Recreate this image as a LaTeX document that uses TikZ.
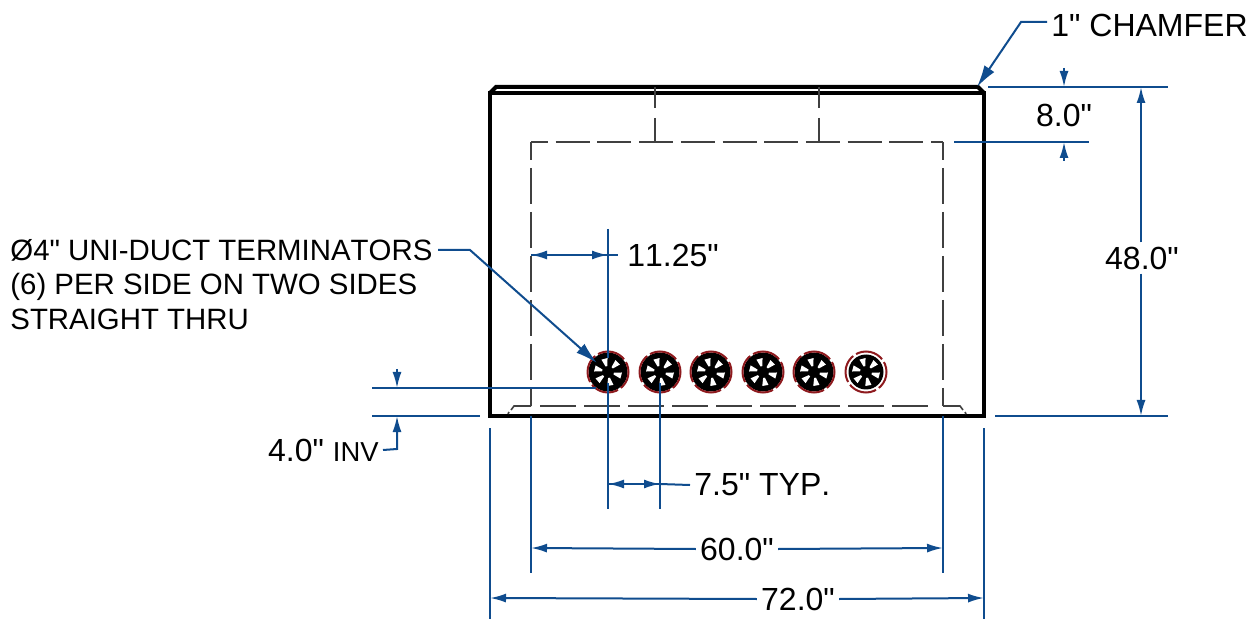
\documentclass[tikz,border=0pt]{standalone}
\usepackage{fontspec}
\setmainfont{Liberation Sans}[Ligatures=TeXOff,Kerning=Off]
\usetikzlibrary{arrows.meta}
\definecolor{dimblue}{HTML}{0F4C8E}
\definecolor{ductred}{HTML}{8E1A1E}
\tikzstyle{body} = [draw=black, line width=2pt, line join=miter]
\tikzstyle{hidden} = [draw=black!75, line width=.8pt, dash pattern=on 18pt off 4pt, dash phase=9pt]
\tikzstyle{hiddentop} = [hidden, dash pattern=on 17pt off 3.85pt, dash phase=8.5pt]
\tikzstyle{hiddenrib} = [hidden, dash pattern=on 10.5pt off 5pt on 12pt off 5pt, dash phase=0pt]
\tikzstyle{dimline} = [draw=dimblue, line width=1pt]
\tikzstyle{dimarrow} = [dimline, -{Latex[length=8pt,width=4.5pt]}]
\tikzstyle{leader} = [dimline, -{Latex[length=11pt,width=6pt]}]
\tikzstyle{dimtext} = [font=\fontsize{16}{16}\selectfont, inner sep=2pt, text=black]
\tikzstyle{notetext} = [font=\fontsize{14.7}{17.25}\selectfont, inner sep=2pt, text=black, align=left]
\tikzstyle{duct} = [circle, fill=black, minimum size=19.5pt, inner sep=0pt]
\tikzstyle{ductring} = [ductred, line width=1pt, dash pattern=on 14.4pt off 1.7pt, dash phase=5.25pt]
\newcommand{\ductwedges}[2]{%
	\foreach \ang in {80,15,-45,-105,-165,140} {%
		\fill[white] ([shift={(\ang-9:6)}]#1,#2) -- ([shift={(\ang-13:14)}]#1,#2) -- ([shift={(\ang+13:14)}]#1,#2) -- ([shift={(\ang+9:6)}]#1,#2) -- cycle;}}
\begin{document}
\begin{tikzpicture}[x=.5pt,y=-.5pt]
	\useasboundingbox (0,0) rectangle (1256,619);
	% box
	\draw[body] (490,416) -- (490,93) -- (984,93) -- (984,416) -- cycle;
	\draw[body] (490,93) -- (496,87) -- (978,87) -- (984,93);
	% hidden lines
	\draw[hidden] (531,142) -- (531,406);
	\draw[hidden] (943,142) -- (943,406);
	\draw[hiddentop] (531,142) -- (943,142);
	\draw[hidden, dash phase=0pt] (540,406) -- (934,406);
	\draw[hidden, solid] (511,410) -- (514,406) -- (531,406);
	\draw[hidden, solid] (963,410) -- (960,406) -- (943,406);
	\draw[hidden, solid] (508,414) -- (509,412);
	\draw[hidden, solid] (966,414) -- (965,412);
	\draw[hiddenrib] (655,87) -- (655,142);
	\draw[hiddenrib] (819,87) -- (819,142);
	% terminators
	\foreach \n/\cx in {1/608,2/660,3/711,4/763,5/814} {%
		\node[duct] (duct\n) at (\cx,372) {};
		\draw[ductring] (\cx,372) circle (20.5);
		\ductwedges{\cx}{372}
	}
	\node[duct, minimum size=17.5pt] (duct6) at (866,372) {};
	\draw[ductring] (866,372) circle (20.5);
	\ductwedges{866}{372}
	% named points
	\coordinate (topl) at (988,87);
	\coordinate (topr) at (1168,87);
	\coordinate (hidl) at (954,142);
	\coordinate (hidr) at (1089,142);
	\coordinate (botl) at (995,416);
	\coordinate (botr) at (1168,416);
	\coordinate (cenl) at (372,388);
	\coordinate (cenr) at (596,388);
	\coordinate (invl) at (372,416);
	\coordinate (invr) at (480,416);
	% extension lines
	\draw[dimline] (topl) -- (topr);
	\draw[dimline] (hidl) -- (hidr);
	\draw[dimline] (botl) -- (botr);
	\draw[dimline] (cenl) -- (cenr);
	\draw[dimline] (invl) -- (invr);
	\draw[dimline] (490,428) -- (490,619);
	\draw[dimline] (984,428) -- (984,619);
	\draw[dimline] (531,416) -- (531,573);
	\draw[dimline] (943,416) -- (943,573);
	\draw[dimline] (608,229) -- (608,358);
	\draw[dimline] (608,383) -- (608,509);
	\draw[dimline] (660,383) -- (660,509);
	% 8.0
	\node[dimtext] (lbleight) at (1064,115) {8.0"};
	\draw[dimarrow] (1064,68) -- (1064,87);
	\draw[dimarrow] (1064,161) -- (1064,142);
	% 48.0
	\node[dimtext] (lblheight) at (1142,258) {48.0"};
	\draw[dimarrow] (lblheight.north -| 1141,0) -- (1141,87);
	\draw[dimarrow] (lblheight.south -| 1141,0) -- (1141,416);
	% 11.25
	\node[dimtext, anchor=west] (lbloffset) at (623,255) {11.25"};
	\draw[dimarrow] (608,255) -- (531,255);
	\draw[dimarrow] (531,255) -- (608,255);
	\draw[dimline] (608,255) -- (618,255);
	% 7.5
	\node[dimtext, anchor=west] (lblpitch) at (690,485) {7.5" TYP.};
	\draw[dimarrow] (660,484) -- (608,484);
	\draw[dimarrow] (608,484) -- (660,484);
	\draw[dimline] (660,484) -- (lblpitch.west);
	% 60.0
	\node[dimtext] (lblsixty) at (737,549) {60.0"};
	\draw[dimarrow] (lblsixty.west) -- (531,548);
	\draw[dimarrow] (lblsixty.east) -- (943,548);
	% 72.0
	\node[dimtext] (lblwidth) at (798,599) {72.0"};
	\draw[dimarrow] (lblwidth.west) -- (490,598);
	\draw[dimarrow] (lblwidth.east) -- (984,598);
	% 4.0
	\node[dimtext, anchor=east] (lblinv) at (383,450) {4.0" {\fontsize{13.7}{13.7}\selectfont INV}};
	\draw[dimarrow] (397,369) -- (397,388);
	\draw[dimarrow] (lblinv.east) -- (397,449) -- (397,416);
	% notes
	\node[notetext, anchor=north west] (lblduct) at (6,235) {Ø4" UNI-DUCT TERMINATORS\\(6) PER SIDE ON TWO SIDES\\STRAIGHT THRU};
	\coordinate (ductbend) at (470,250);
	\coordinate (ductstart) at (438,250);
	\draw[leader] (ductstart) -- (ductbend) -- (597,363);
	\node[dimtext, anchor=west] (lblchamfer) at (1047,25) {1" CHAMFER};
	\draw[leader] (lblchamfer.west |- 0,22) -- (1021,22) -- (977,87);
\end{tikzpicture}
\end{document}
